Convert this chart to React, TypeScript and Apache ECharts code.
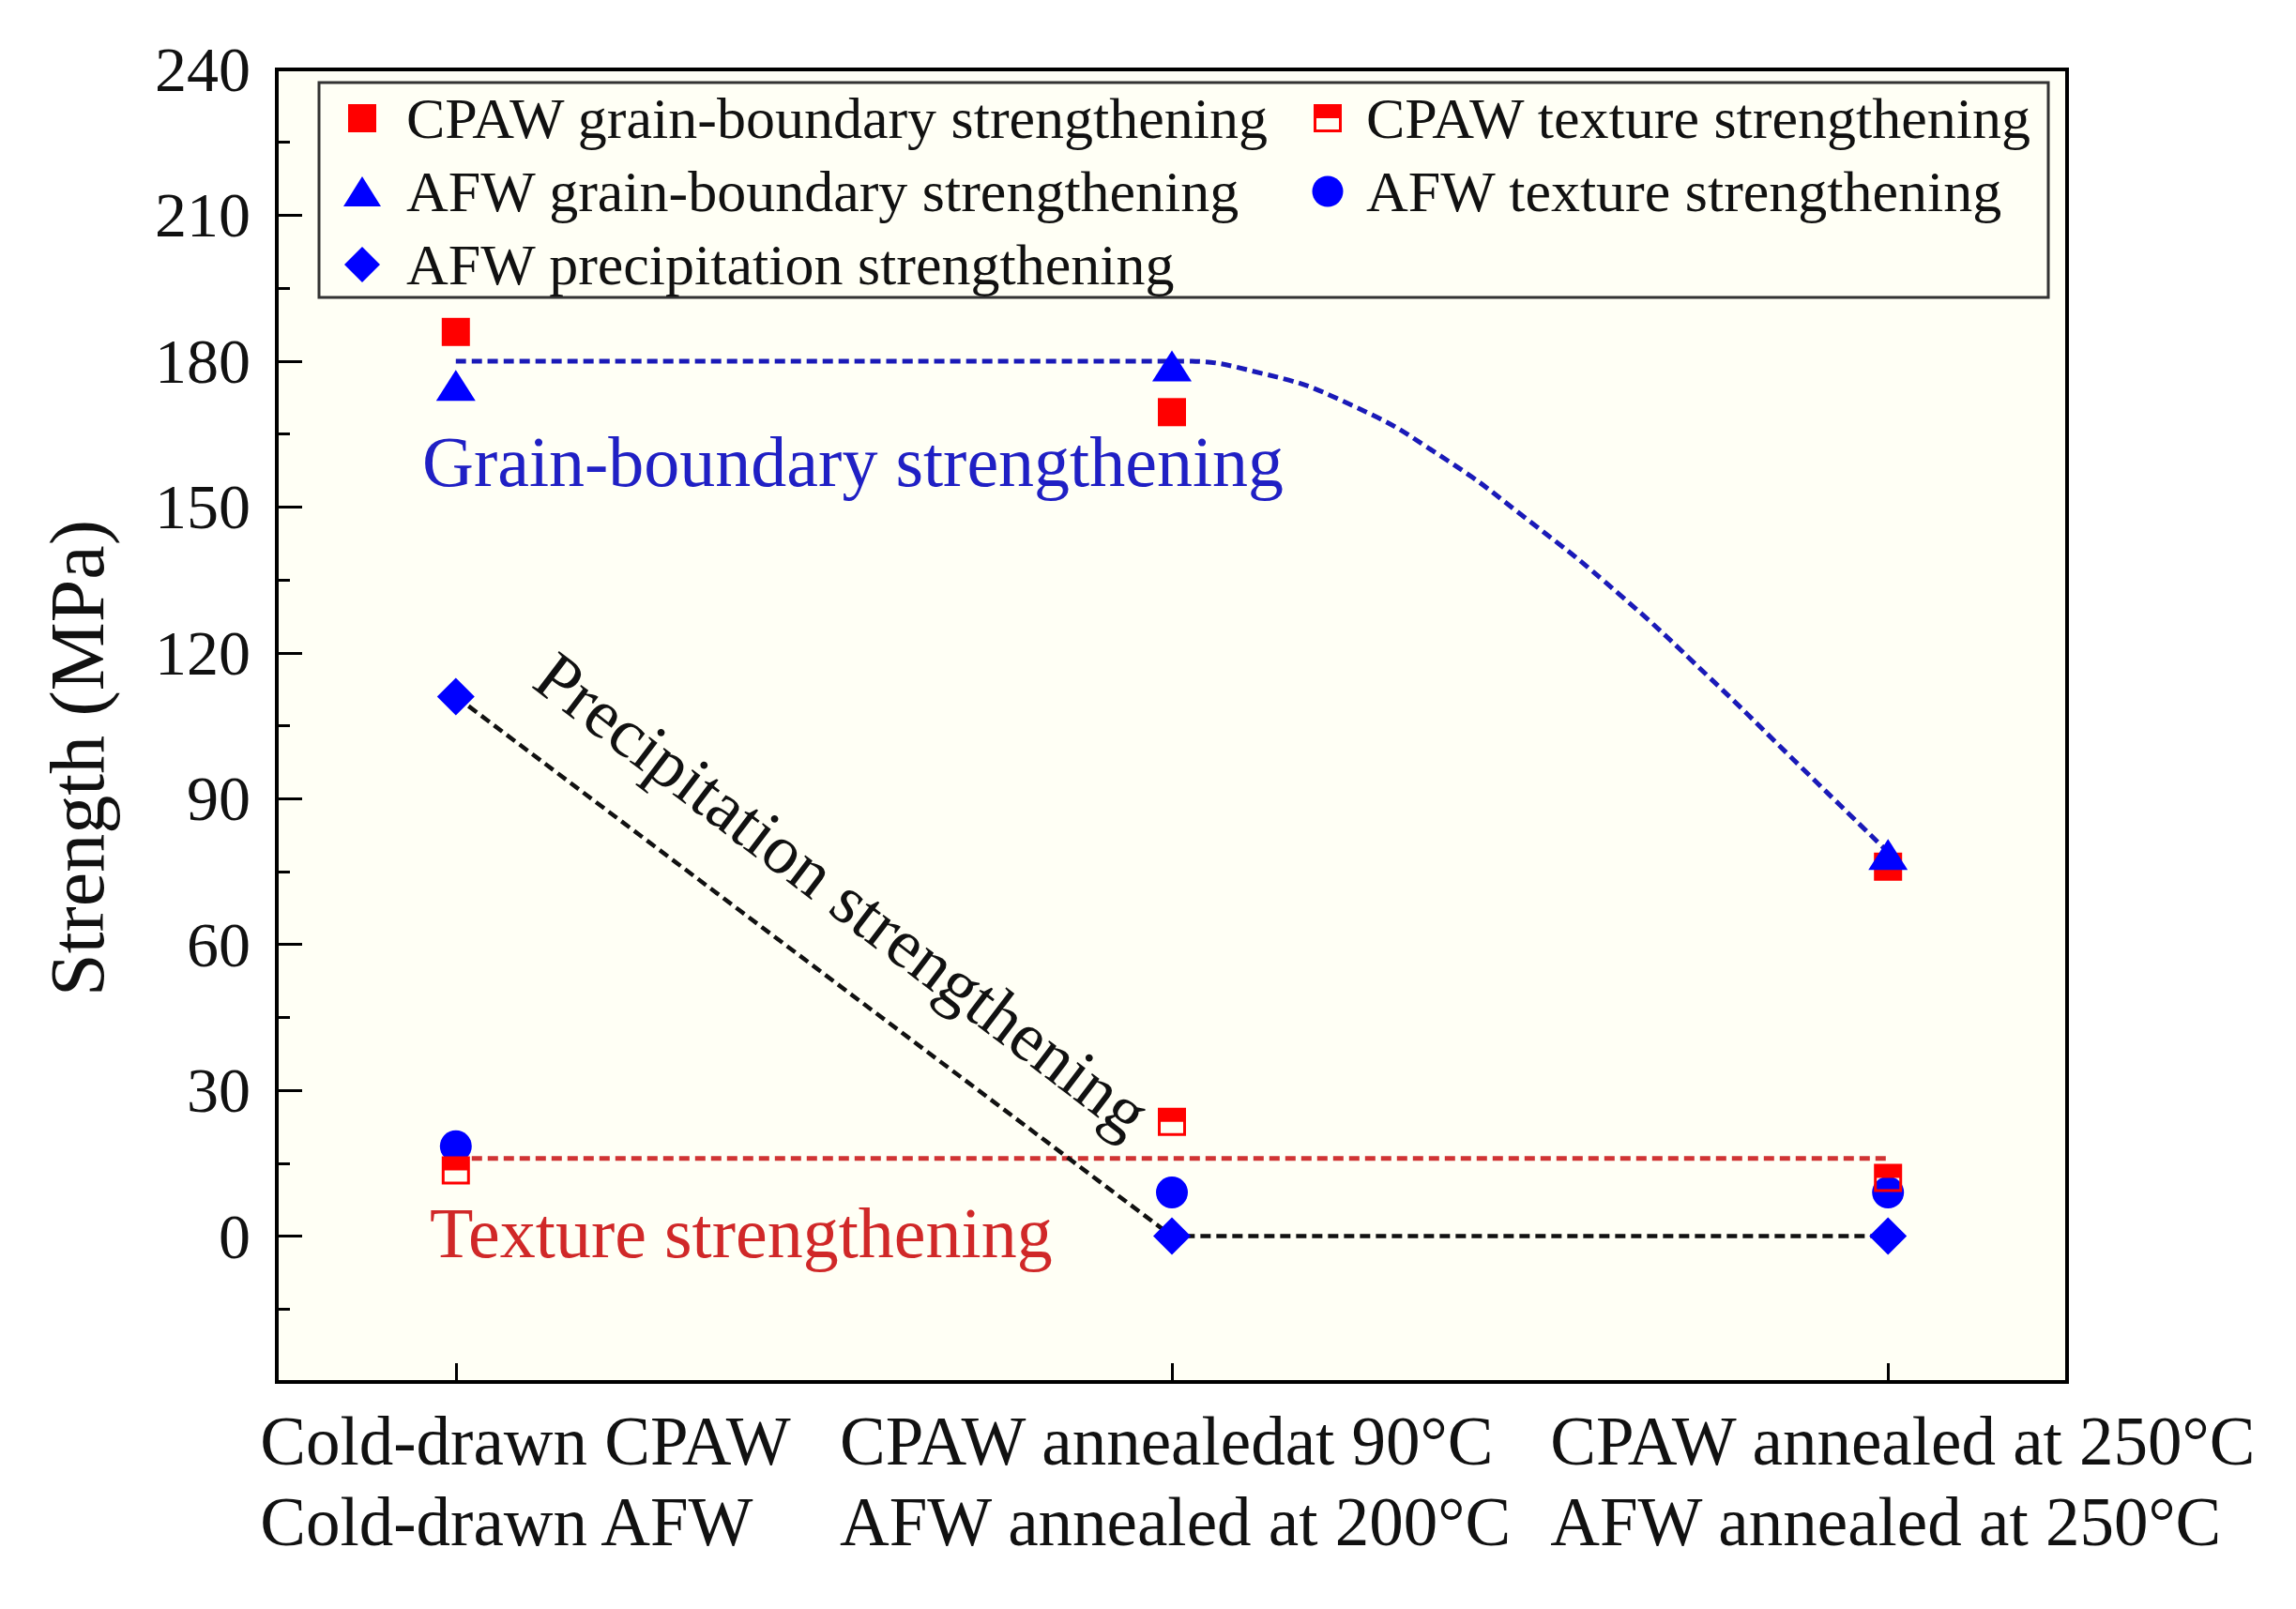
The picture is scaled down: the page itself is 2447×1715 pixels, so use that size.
import React, { useEffect, useRef } from "react";
import * as echarts from "echarts";

// ---- data ----
const categoryLabels = [
  ["Cold-drawn CPAW", "Cold-drawn AFW"],
  ["CPAW annealedat 90°C", "AFW annealed at 200°C"],
  ["CPAW annealed at 250°C", "AFW annealed at 250°C"],
];
const xPositions = [1, 2, 3];
const cpawGrain = [186, 169.5, 76];
const afwGrain = [175, 179, 78.5];
const afwPrecip = [111, 0, 0];
const cpawTexture = [13.5, 23.5, 12];
const afwTexture = [18.5, 9, 9];
const grainFitX = [1, 2, 2.125, 2.25, 2.375, 2.5, 2.625, 2.75, 2.875, 3];
const grainFitY = [180, 180, 177.5, 171, 160.5, 147, 132, 115, 97, 79];
const textureFitX = [1, 3];
const textureFitY = [16, 16];
const precipFitX = [1, 2, 3];
const precipFitY = [111, 0, 0];
const yMin = -30;
const yMax = 240;
const yStep = 30;

const seriesNames = {
  cpawGrain: "CPAW grain-boundary strengthening",
  cpawTexture: "CPAW texture strengthening",
  afwGrain: "AFW grain-boundary strengthening",
  afwTexture: "AFW texture strengthening",
  afwPrecip: "AFW precipitation strengthening",
};

// series symbols
const SQUARE = "path://M0,0H10V10H0Z";
const HALF = "path://M0,0H10V10H0Z M1,5V9H9V5Z";
const TRI = "path://M6.5,0L13,10L0,10Z";
const DIAMOND = "path://M5,0L10,5L5,10L0,5Z";
const CIRCLE = "path://M0,5A5,5,0,1,1,10,5A5,5,0,1,1,0,5Z";
// legend icons in a common 40x40 box
const L_SQUARE = "path://M0,0M5,5H35V35H5ZM40,40";
const L_HALF = "path://M0,0M5,5H35V35H5ZM8,20V32H32V20ZM40,40";
const L_TRI = "path://M0,0M20,4L40,36H0ZM40,40";
const L_DIAMOND = "path://M20,1L39,20L20,39L1,20ZM0,0M40,40";
const L_CIRCLE = "path://M0,0M3.5,20A16.5,16.5,0,1,1,36.5,20A16.5,16.5,0,1,1,3.5,20ZM40,40";

const FONT = '"Liberation Serif", "Times New Roman", serif';

const pairs = (xs: number[], ys: number[]) => xs.map((x, i) => [x, ys[i]]);

export default function App() {
  const ref = useRef<HTMLDivElement>(null);
  useEffect(() => {
    if (!ref.current) return;
    const chart = echarts.init(ref.current, undefined, { renderer: "svg" });
    const dashed = (color: string, width: number) => ({
      color,
      width,
      type: [11, 6] as any,
    });
    const labelRich = (width: number, padLeft: number) => ({
      width,
      align: "left",
      padding: [0, 0, 0, padLeft],
      fontSize: 73,
      lineHeight: 86,
      fontFamily: FONT,
      color: "#111",
    });
    const legendText = { fontFamily: FONT, fontSize: 62, color: "#111" };
    const option: any = {
      animation: false,
      backgroundColor: "#ffffff",
      textStyle: { fontFamily: FONT },
      grid: {
        left: 295,
        right: 244,
        top: 74,
        bottom: 242,
        containLabel: false,
        outerBoundsMode: "none",
        show: true,
        backgroundColor: "#fffff5",
        borderColor: "#000",
        borderWidth: 4,
      },
      xAxis: {
        type: "value",
        min: 0.75,
        max: 3.25,
        splitLine: { show: false },
        axisLine: { onZero: false, lineStyle: { color: "#000", width: 4 } },
        axisTick: {
          inside: true,
          length: 20,
          customValues: xPositions,
          lineStyle: { color: "#000", width: 3 },
        },
        axisLabel: {
          customValues: xPositions,
          hideOverlap: false,
          margin: 20,
          color: "#111",
          fontFamily: FONT,
          fontSize: 73,
          formatter: (v: number) => {
            const i = Math.round(v) - 1;
            const lines = categoryLabels[i] || ["", ""];
            return `{c${i}|${lines[0]}}\n{c${i}|${lines[1]}}`;
          },
          rich: {
            c0: labelRich(575, 158),
            c1: labelRich(708, 0),
            c2: labelRich(760, 40),
          },
        },
      },
      yAxis: {
        type: "value",
        min: yMin,
        max: yMax,
        interval: yStep,
        splitLine: { show: false },
        axisLine: { show: true, onZero: false, lineStyle: { color: "#000", width: 4 } },
        axisTick: { show: true, inside: true, length: 27, lineStyle: { color: "#000", width: 3 } },
        minorTick: { show: true, splitNumber: 2, length: 14, lineStyle: { color: "#000", width: 3 } },
        axisLabel: {
          margin: 28,
          fontSize: 68,
          fontFamily: FONT,
          color: "#111",
          formatter: (v: number) => (v === yMin ? "" : String(v)),
        },
      },
      legend: [
        {
          data: [
            { name: seriesNames.cpawGrain, icon: L_SQUARE },
            { name: seriesNames.afwGrain, icon: L_TRI },
            { name: seriesNames.afwPrecip, icon: L_DIAMOND },
          ],
          orient: "vertical",
          left: 366,
          top: 95,
          padding: 0,
          itemWidth: 84,
          itemHeight: 40,
          itemGap: 16,
          selectedMode: false,
          z: 6,
          textStyle: legendText,
        },
        {
          data: [
            { name: seriesNames.cpawTexture, icon: L_HALF },
            { name: seriesNames.afwTexture, icon: L_CIRCLE },
          ],
          orient: "vertical",
          left: 1395,
          top: 95,
          padding: 0,
          itemWidth: 72,
          itemHeight: 40,
          itemGap: 16,
          selectedMode: false,
          z: 6,
          textStyle: legendText,
        },
      ],
      graphic: [
        {
          type: "rect",
          z: 1,
          shape: { x: 340, y: 88, width: 1843, height: 229 },
          style: { fill: "#fffff5", stroke: "#333", lineWidth: 3 },
        },
        {
          type: "text",
          x: 82,
          y: 808,
          rotation: Math.PI / 2,
          style: {
            text: "Strength (MPa)",
            fontFamily: FONT,
            fontSize: 82,
            fill: "#111",
            align: "center",
            verticalAlign: "middle",
          },
        },
        {
          type: "text",
          x: 450,
          y: 492,
          style: {
            text: "Grain-boundary strengthening",
            fontFamily: FONT,
            fontSize: 76,
            fill: "#2020c4",
            align: "left",
            verticalAlign: "middle",
          },
        },
        {
          type: "text",
          x: 458,
          y: 1314,
          style: {
            text: "Texture strengthening",
            fontFamily: FONT,
            fontSize: 76,
            fill: "#d02828",
            align: "left",
            verticalAlign: "middle",
          },
        },
        {
          type: "text",
          x: 898,
          y: 953,
          rotation: -0.65,
          style: {
            text: "Precipitation strengthening",
            fontFamily: FONT,
            fontSize: 74,
            fill: "#111",
            align: "center",
            verticalAlign: "middle",
          },
        },
      ],
      series: [
        {
          type: "line",
          name: "grain fit",
          data: pairs(grainFitX, grainFitY),
          smooth: 0.5,
          showSymbol: false,
          symbol: "none",
          lineStyle: dashed("#1a1ab8", 5),
          z: 2,
        },
        {
          type: "line",
          name: "texture fit",
          data: pairs(textureFitX, textureFitY),
          symbol: "none",
          lineStyle: dashed("#d03434", 5),
          z: 2,
        },
        {
          type: "line",
          name: "precip fit",
          data: pairs(precipFitX, precipFitY),
          symbol: "none",
          lineStyle: dashed("#111", 4.5),
          z: 2,
        },
        {
          type: "scatter",
          name: seriesNames.afwTexture,
          data: pairs(xPositions, afwTexture),
          symbol: CIRCLE,
          symbolSize: [34, 34],
          itemStyle: { color: "#0000ff", opacity: 1 },
          z: 3,
        },
        {
          type: "scatter",
          name: seriesNames.cpawGrain,
          data: pairs(xPositions, cpawGrain),
          symbol: SQUARE,
          symbolSize: [30, 30],
          itemStyle: { color: "#ff0000", opacity: 1 },
          z: 4,
        },
        {
          type: "scatter",
          name: seriesNames.cpawTexture,
          data: pairs(xPositions, cpawTexture),
          symbol: HALF,
          symbolSize: [30, 30],
          itemStyle: { color: "#ff0000", opacity: 1 },
          z: 5,
        },
        {
          type: "scatter",
          name: seriesNames.afwGrain,
          data: pairs(xPositions, afwGrain),
          symbol: TRI,
          symbolSize: [42, 33],
          itemStyle: { color: "#0000ff", opacity: 1 },
          z: 6,
        },
        {
          type: "scatter",
          name: seriesNames.afwPrecip,
          data: pairs(xPositions, afwPrecip),
          symbol: DIAMOND,
          symbolSize: [40, 40],
          itemStyle: { color: "#0000ff", opacity: 1 },
          z: 7,
        },
      ],
    };
    chart.setOption(option);
    return () => chart.dispose();
  }, []);
  return (
    <div
      ref={ref}
      style={{ position: "fixed", left: 0, top: 0, width: 2447, height: 1715, background: "#fff" }}
    />
  );
}
